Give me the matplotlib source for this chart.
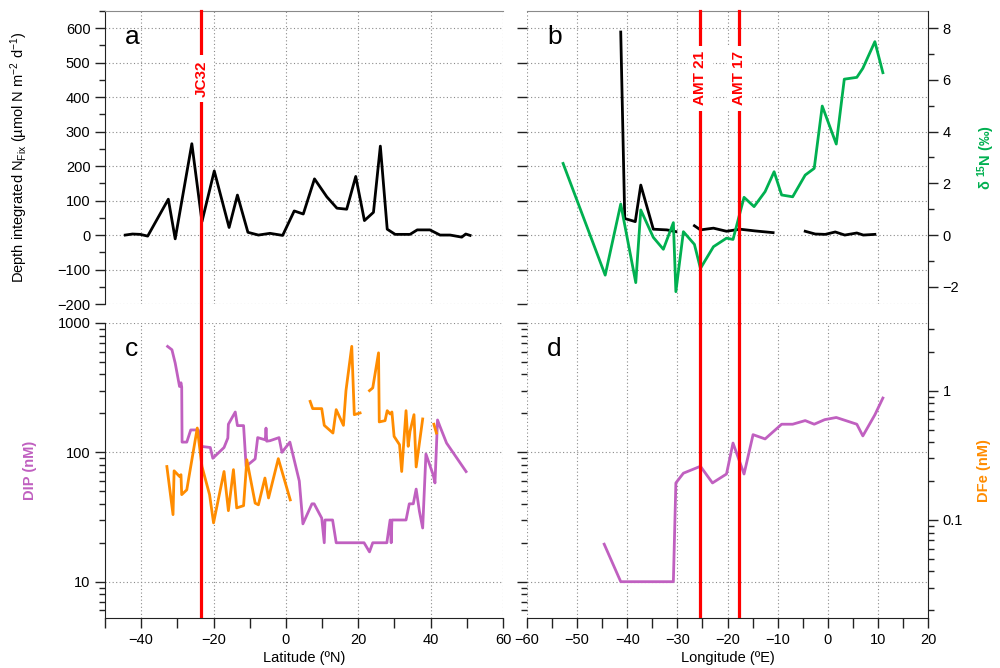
import numpy as np
import matplotlib
matplotlib.use('Agg')
import matplotlib.pyplot as plt
from matplotlib.ticker import MultipleLocator, LogLocator, NullFormatter, FuncFormatter
from matplotlib.transforms import blended_transform_factory

nan = np.nan

# panel a: depth integrated N fixation vs latitude (JC32)
lat_nfix = [-44.4, -42.4, -40.3, -38.2, -32.5, -30.6, -26.0, -23.2, -19.8, -15.7, -13.4, -10.5,
            -7.6, -4.4, -0.9, 2.3, 4.8, 7.9, 11.3, 14.1, 16.8, 19.3, 21.7, 24.2, 26.1, 28.0,
            30.2, 34.3, 36.3, 39.8, 42.6, 45.4, 48.6, 49.7, 50.9]
nfix_a = [0, 3, 2, -3, 104, -11, 265, 39, 186, 22, 116, 8,
          0, 5, -1, 70, 61, 163, 111, 78, 75, 170, 42, 66, 258, 17,
          2, 2, 15, 15, 0, 0, -6, 3, -1]

# panel b: N fixation and d15N vs longitude (AMT 21 / AMT 17)
lon_nfix = [-41.3, -40.5, -38.4, -37.3, -34.8, -32.1, -30.3, nan, -26.6, -25.4, -22.8, -20.2,
            -17.5, -14.5, -10.9, nan, -4.5, -2.5, -0.5, 1.5, 3.4, 5.8, 7.1, 9.4]
nfix_b = [589, 48, 39, 145, 17, 15, 10, nan, 27, 15, 20, 11,
          17, 12, 7, nan, 11, 3, 2, 9, 0, 6, 0, 2]
lon_d15n = [-52.8, -44.4, -41.3, -38.3, -37.3, -34.8, -32.8, -30.8, -30.3, -28.8, -26.6, -25.4,
            -22.8, -20.2, -18.9, -16.7, -14.7, -12.5, -10.7, -9.2, -7.0, -4.5, -2.7, -1.1,
            1.7, 3.3, 5.8, 7.0, 9.4, 11.0]
d15n = [2.77, -1.55, 1.2, -1.84, 0.97, -0.09, -0.55, 0.48, -2.19, 0.13, -0.36, -1.29,
        -0.45, -0.12, -0.17, 1.46, 1.1, 1.68, 2.45, 1.55, 1.48, 2.32, 2.58, 4.99,
        3.52, 6.03, 6.1, 6.45, 7.48, 6.28]

# panel c: DIP and DFe vs latitude
lat_dip = [-32.7, -31.5, -30.6, -29.4, -29.0, -28.8, -28.7, -27.4, -26.3, -24.2, -23.2, -20.9,
           -20.2, -17.1, -16.05, -15.9, -14.0, -13.4, -11.7, -11.0, -8.5, -7.8, -5.7, -5.5,
           -5.3, -4.4, -1.9, -1.1, 1.1, 3.7, 4.7, 7.2, 7.8, 9.9, 10.6, 10.8,
           12.9, 13.9, 20.5, 21.6, 23.1, 24.0, 27.9, 28.8, 29.1, 29.3, 33.2, 34.1,
           35.2, 36.0, 36.9, 37.8, 38.7, 40.7, 41.2, 41.9, 42.6, 44.4, 49.8]
dip_c = [659, 621, 490, 323, 345, 320, 120, 120, 149, 149, 111, 109,
         90, 109, 129, 165, 205, 161, 161, 78, 89, 130, 125, 154,
         122, 123, 130, 100, 120, 60, 28, 40, 40, 31, 20, 30,
         30, 20, 20, 20, 17, 20, 20, 30, 20, 30, 30, 40,
         40, 52, 35, 26, 97, 67, 58, 178, 158, 118, 71]
lat_dfe = [-32.9, -31.2, -30.9, -29.4, -29.0, -28.8, -27.4, -24.5, -23.2, -21.1, -20.0, -17.1,
           -15.9, -14.5, -13.6, -11.7, -10.8, -8.5, -7.6, -5.8, -4.8, -2.1, 1.2, nan,
           6.7, 7.4, 9.9, 10.6, 13.0, 13.9, 15.9, 16.6, 18.2, 18.9, 20.5, nan,
           23.1, 24.0, 25.6, 25.8, 27.4, 28.0, 28.8, 29.3, 29.9, 31.4, 32.0, 33.2,
           33.8, 34.3, 35.4, 36.0, 37.8, nan, 40.9, 41.6]
dfe_c = [0.259, 0.11, 0.24, 0.217, 0.224, 0.157, 0.171, 0.514, 0.259, 0.157, 0.095, 0.237,
         0.118, 0.245, 0.124, 0.129, 0.292, 0.135, 0.131, 0.211, 0.148, 0.298, 0.143, nan,
         0.826, 0.726, 0.726, 0.539, 0.47, 0.713, 0.539, 1.0, 2.2, 0.652, 0.672, nan,
         1.0, 1.05, 1.96, 0.573, 0.586, 0.70, 0.66, 0.684, 0.443, 0.382, 0.237, 0.70,
         0.371, 0.484, 0.652, 0.257, 0.604, nan, 0.55, 0.47]

# panel d: DIP vs longitude
lon_dip = [-44.6, -41.3, -30.8, -30.3, -28.8, -25.4, -23.0, -20.2, -18.9, -16.7, -14.9,
           -12.5, -9.2, -7.0, -4.5, -2.7, -0.6, 1.7, 5.8, 7.0, 9.4, 11.0]
dip_d = [19.5, 10, 10, 58, 69, 78, 58, 68, 118, 68, 137,
         127, 165, 165, 176, 165, 179, 186, 165, 134, 195, 263]

cruise_lat = {'JC32': -23.4}
cruise_lon = {'AMT 21': -25.4, 'AMT 17': -17.7}

GREEN = '#00b050'
PURPLE = '#c060c0'
ORANGE = '#ff8c00'
RED = '#ff0000'
LW = 2.0

plt.rcParams['font.family'] = ['Liberation Sans', 'DejaVu Sans']
plt.rcParams['mathtext.fontset'] = 'custom'
plt.rcParams['mathtext.rm'] = 'Liberation Sans'
plt.rcParams['mathtext.it'] = 'Liberation Sans:italic'
plt.rcParams['mathtext.bf'] = 'Liberation Sans:bold'
plt.rcParams['font.size'] = 10.5
plt.rcParams['axes.edgecolor'] = '#222222'
plt.rcParams['xtick.color'] = '#222222'
plt.rcParams['ytick.color'] = '#222222'
plt.rcParams['xtick.labelcolor'] = 'black'
plt.rcParams['ytick.labelcolor'] = 'black'

fig = plt.figure(figsize=(10, 6.68), dpi=100)
W, H = 1000.0, 668.0
top_b, top_h = 1 - 304 / H, 293 / H
bot_b, bot_h = 1 - 618 / H, 295 / H
lx, lw_ = 105 / W, 398 / W
rx, rw = 527 / W, 401 / W

axA = fig.add_axes([lx, top_b, lw_, top_h])
axB = fig.add_axes([rx, top_b, rw, top_h])
axC = fig.add_axes([lx, bot_b, lw_, bot_h])
axD = fig.add_axes([rx, bot_b, rw, bot_h])

nfix_lim = (-200, 650)
dip_lim = (5.24, 1000)
dfe_lim = (dip_lim[0] / 300.0, dip_lim[1] / 300.0)
gap = 19 / 293.0

grid_kw = dict(color='#8a8a8a', linestyle=(0, (1, 2.2)), linewidth=0.8)
fmt_g = FuncFormatter(lambda v, p: f'{v:g}')


def style_common(ax):
    ax.grid(True, which='major', **grid_kw)
    ax.set_axisbelow(True)
    ax.tick_params(which='major', length=7, width=1)
    ax.tick_params(which='minor', length=4, width=1)


# ---- panel a
axA.plot(lat_nfix, nfix_a, color='black', lw=LW)
axA.set_xlim(-50, 60)
axA.set_ylim(*nfix_lim)
axA.xaxis.set_major_locator(MultipleLocator(20))
axA.yaxis.set_major_locator(MultipleLocator(100))
axA.yaxis.set_minor_locator(MultipleLocator(50))
style_common(axA)
axA.tick_params(axis='x', which='both', bottom=False, labelbottom=False)
for s in ['right', 'bottom']:
    axA.spines[s].set_visible(False)
axA.spines['top'].set_color('#8a8a8a')
axA.set_ylabel('Depth integrated N$_{\\rm Fix}$ (µmol N m$^{-2}$ d$^{-1}$)', fontsize=10.5)
axA.yaxis.set_label_coords(-0.188, 0.5)

# ---- panel b
axB.plot(lon_nfix, nfix_b, color='black', lw=LW)
axB.set_xlim(-60, 20)
axB.set_ylim(*nfix_lim)
axB.xaxis.set_major_locator(MultipleLocator(10))
axB.yaxis.set_major_locator(MultipleLocator(100))
style_common(axB)
axB.tick_params(axis='x', which='both', bottom=False, labelbottom=False)
axB.tick_params(axis='y', which='both', left=False, labelleft=False)
for s in ['left', 'right', 'bottom']:
    axB.spines[s].set_visible(False)
axB.spines['top'].set_color('#8a8a8a')

axB2 = axB.twinx()
axB2.plot(lon_d15n, d15n, color=GREEN, lw=LW)
d_lim = (nfix_lim[0] / 75.0, nfix_lim[1] / 75.0)
axB2.set_ylim(*d_lim)
axB2.yaxis.set_major_locator(MultipleLocator(2))
axB2.yaxis.set_minor_locator(MultipleLocator(1))
axB2.tick_params(which='major', length=7, width=1)
axB2.tick_params(which='minor', length=4, width=1)
for s in ['left', 'top', 'bottom']:
    axB2.spines[s].set_visible(False)
axB2.spines['right'].set_bounds(d_lim[0] - gap * (d_lim[1] - d_lim[0]), d_lim[1])
axB2.set_ylabel(r'δ $^{\mathbf{15}}$N (‰)', color=GREEN, fontweight='bold', fontsize=10.5)
axB2.yaxis.set_label_coords(1.117, 0.5)

# ---- panel c
axC.plot(lat_dip, dip_c, color=PURPLE, lw=LW)
axC.set_xlim(-50, 60)
axC.set_yscale('log')
axC.set_ylim(*dip_lim)
axC.xaxis.set_major_locator(MultipleLocator(20))
axC.xaxis.set_minor_locator(MultipleLocator(10))
axC.yaxis.set_major_locator(LogLocator(base=10))
axC.yaxis.set_minor_locator(LogLocator(base=10, subs=np.arange(2, 10)))
axC.yaxis.set_major_formatter(fmt_g)
axC.yaxis.set_minor_formatter(NullFormatter())
style_common(axC)
axC.tick_params(axis='x', which='minor', length=7)
for s in ['right', 'top']:
    axC.spines[s].set_visible(False)
axC.set_ylabel('DIP (nM)', color=PURPLE, fontweight='bold', fontsize=10.5)
axC.yaxis.set_label_coords(-0.171, 0.5)
axC.set_xlabel('Latitude (ºN)', fontsize=10.5)
axC.xaxis.set_label_coords(0.5, -0.112)

axC2 = axC.twinx()
axC2.plot(lat_dfe, dfe_c, color=ORANGE, lw=LW)
axC2.set_yscale('log')
axC2.set_ylim(*dfe_lim)
axC2.tick_params(axis='y', which='both', right=False, labelright=False)
for s in axC2.spines.values():
    s.set_visible(False)

# ---- panel d
axD.plot(lon_dip, dip_d, color=PURPLE, lw=LW)
axD.set_xlim(-60, 20)
axD.set_yscale('log')
axD.set_ylim(*dip_lim)
axD.xaxis.set_major_locator(MultipleLocator(10))
axD.xaxis.set_minor_locator(MultipleLocator(5))
axD.yaxis.set_major_locator(LogLocator(base=10))
style_common(axD)
axD.tick_params(axis='x', which='minor', length=7)
axD.tick_params(axis='y', which='both', left=False, labelleft=False)
for s in ['left', 'top', 'right']:
    axD.spines[s].set_visible(False)
axD.set_xlabel('Longitude (ºE)', fontsize=10.5)
axD.xaxis.set_label_coords(0.5, -0.112)

axD2 = axD.twinx()
axD2.set_yscale('log')
axD2.set_ylim(*dfe_lim)
axD2.yaxis.set_major_locator(LogLocator(base=10))
axD2.yaxis.set_minor_locator(LogLocator(base=10, subs=np.arange(2, 10)))
axD2.yaxis.set_major_formatter(fmt_g)
axD2.yaxis.set_minor_formatter(NullFormatter())
axD2.tick_params(which='major', length=7, width=1)
axD2.tick_params(which='minor', length=4, width=1)
for s in ['left', 'top', 'bottom']:
    axD2.spines[s].set_visible(False)
axD2.set_ylabel('DFe (nM)', color=ORANGE, fontweight='bold', fontsize=10.5)
axD2.yaxis.set_label_coords(1.122, 0.5)

# ---- cruise tracks
for name, x in cruise_lat.items():
    axA.axvline(x, ymin=-gap, ymax=1, color=RED, lw=2.3, clip_on=False, zorder=5)
    axC2.axvline(x, color=RED, lw=2.3, zorder=5)
    axA.text(x, 0.77, name, transform=blended_transform_factory(axA.transData, axA.transAxes),
             rotation=90, ha='center', va='center', color=RED, fontweight='bold', fontsize=11,
             zorder=6, bbox=dict(facecolor='white', edgecolor='none', pad=4))
for name, x in cruise_lon.items():
    axB2.axvline(x, ymin=-gap, ymax=1, color=RED, lw=2.3, clip_on=False, zorder=5)
    axD2.axvline(x, color=RED, lw=2.3, zorder=5)
    axB2.text(x, 0.77, name, transform=blended_transform_factory(axB2.transData, axB2.transAxes),
              rotation=90, ha='center', va='center', color=RED, fontweight='bold', fontsize=11,
              zorder=6, bbox=dict(facecolor='white', edgecolor='none', pad=4))

for ax, letter in [(axA, 'a'), (axB2, 'b'), (axC2, 'c'), (axD2, 'd')]:
    ax.text(0.05, 0.888, letter, transform=ax.transAxes, fontsize=19, va='baseline', ha='left')

fig.savefig('out.png', dpi=100)
